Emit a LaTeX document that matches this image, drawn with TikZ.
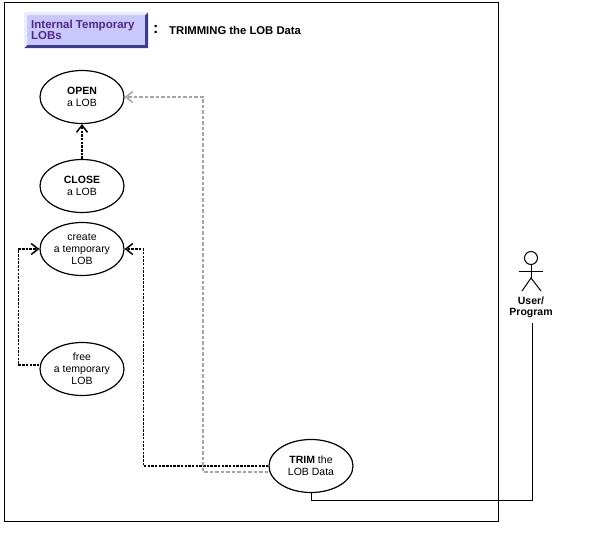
\documentclass[tikz,border=0pt]{standalone}
\usepackage{fontspec}
\setmainfont{Liberation Sans}
\usetikzlibrary{arrows.meta,shapes.geometric}
\definecolor{titlefill}{RGB}{200,200,250}
\definecolor{titletext}{RGB}{80,40,140}
\definecolor{bevdark}{RGB}{60,60,150}
\definecolor{bevlight}{RGB}{235,235,255}
\definecolor{grayline}{RGB}{165,165,165}
\tikzset{
  usecase/.style={draw, line width=1.2pt, ellipse, minimum width=84pt, minimum height=53pt, inner sep=0pt, align=center, font=\fontsize{10.5}{12}\selectfont},
  depline/.style={line width=1.6pt, dash pattern=on 2.5pt off 1.2pt, -{Straight Barb[length=7pt,width=11pt,line width=1.5pt]}},
  grayline/.style={draw=grayline, line width=2pt, dash pattern=on 3.5pt off 2pt, -{Straight Barb[length=7pt,width=11pt,line width=1.5pt]}},
  assoc/.style={line width=1pt},
}
\begin{document}
\begin{tikzpicture}[x=1pt,y=-1pt]
\useasboundingbox (0,0) rectangle (600,539);
% frame
\node[draw, line width=1pt, minimum width=494pt, minimum height=519pt, inner sep=0pt, anchor=north west] (frame) at (4,1.5) {};
% title box
\fill[titlefill] (24,12) rectangle (148,48);
\fill[bevdark] (148,12) -- (148,48) -- (24,48) -- (27,45) -- (145,45) -- (145,15) -- cycle;
\fill[bevlight] (24,12) -- (148,12) -- (145,15) -- (27,15) -- (27,45) -- (24,48) -- cycle;
\node[anchor=west, align=left, text=titletext, font=\fontsize{11.5}{11.5}\selectfont\bfseries, inner sep=0pt] (title) at (31,30) {Internal Temporary\\LOBs};
\node[anchor=west, font=\fontsize{16}{16}\selectfont\bfseries, inner sep=0pt] (colon) at (153,29) {:};
\node[anchor=west, font=\fontsize{11.3}{12}\selectfont\bfseries, inner sep=0pt] (heading) at (169,30) {TRIMMING the LOB Data};
% use cases
\node[usecase] (open) at (82,97) {\textbf{OPEN}\\a LOB};
\node[usecase] (close) at (82,186) {\textbf{CLOSE}\\a LOB};
\node[usecase] (create) at (82,249) {create\\a temporary\\LOB};
\node[usecase] (free) at (82,369) {free\\a temporary\\LOB};
\node[usecase] (trim) at (311,466) {\textbf{TRIM} the\\LOB Data};
% actor
\coordinate (head) at (531,258);
\draw[line width=1pt] (head) circle (6.5pt);
\draw[line width=1pt] (519,271) -- (543,271);
\draw[line width=1pt] (531,264.5) -- (531,278);
\draw[line width=1pt] (522,291) -- (531,278) -- (541,291);
\node[font=\fontsize{10.5}{11}\selectfont\bfseries, align=center, inner sep=0pt] (user) at (531,307) {User/\\Program};
\coordinate (ubot) at (532,323);
% connectors
\draw[depline] (close.north) -- (open.south);
\draw[depline] ([yshift=4pt]free.west) -- ++(-21,0) |- (create.west);
\draw[depline] (trim.west) -- ++(-125,0) |- (create.east);
\draw[grayline] ([yshift=-6pt]trim.west) -- (203,472) |- (open.east);
\draw[assoc] (ubot) -- (532,500) -| (trim.south);
\end{tikzpicture}
\end{document}
